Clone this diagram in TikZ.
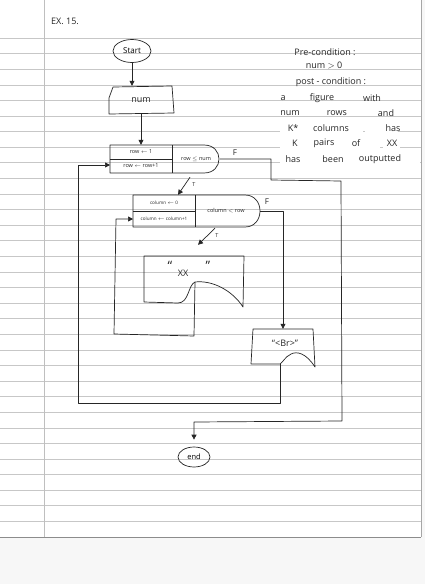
\documentclass[tikz,border=0pt]{standalone}
\usepackage{fontspec}
\setmainfont{Open Sans}
\usetikzlibrary{arrows.meta,shapes.geometric}

\begin{document}
\begin{tikzpicture}[x=1pt,y=-1pt,
  ink/.style={line width=0.7pt, draw=black!85, line join=round},
  tip/.style={-{Triangle[length=5pt,width=5pt]}},
  rule/.style={draw=black!22, line width=0.5pt},
  hand/.style={inner sep=0pt, text=black!85, font=\fontsize{9}{10}\selectfont},
  quote/.style={inner sep=0pt, text=black!85, font=\fontsize{13}{14}\selectfont},
  small/.style={inner sep=0pt, text=black!85, font=\fontsize{5.5}{6}\selectfont},
  tiny/.style={inner sep=0pt, text=black!85, font=\fontsize{4.6}{5}\selectfont},
  flag/.style={inner sep=0pt, text=black!85, font=\fontsize{8}{9}\selectfont},
]
\useasboundingbox (0,0) rectangle (425,584);

% ---- ruled notebook paper ----
\fill[white] (0,0) rectangle (425,584);
\fill[black!3] (0,537) rectangle (425,584);
\fill[black!3] (421,0) rectangle (425,537);
\foreach \k in {0,...,31}
  \draw[rule] (0,{38+15.59*\k}) -- (421,{38+15.59*\k});
\draw[draw=black!45, line width=0.7pt] (0,537) -- (421,537);
\draw[draw=black!25, line width=0.5pt] (44,0) -- (44,537);
\draw[draw=black!35, line width=0.5pt] (421,0) -- (421,537);

% ---- whited-out strips behind the last lines of the notes ----
\fill[white] (280,123) rectangle (363,134);
\fill[white] (365,123) rectangle (398,134);
\fill[white] (280,138) rectangle (380,149);
\fill[white] (383,138) rectangle (400,149);
\fill[white] (280,154) rectangle (420,165);

% ---- heading ----
\node[hand] (title) at (65,21) {EX. 15.};

% ---- start ----
\node[ellipse, ink, minimum width=38pt, minimum height=23pt, inner sep=0pt,
      font=\fontsize{8}{9}\selectfont] (start) at (132,51) {Start};

% ---- input num (manual input shape) ----
\node[hand, minimum width=65pt, minimum height=28pt] (num) at (141,100) {num};
\draw[ink] (109,98) -- (113,87) -- (172,86) -- (174,113) -- (109,114) -- cycle;

% ---- outer loop box: row ----
\node[inner sep=0pt, minimum width=110pt, minimum height=28pt] (rowbox) at (165,159) {};
\draw[ink] (110,145) -- (204,145) .. controls (224,145) and (224,173) .. (204,173)
  -- (110,173) -- cycle;
\draw[ink] (172,145) -- (172,173) (110,159) -- (172,159);
\node[small] (rowinit) at (141,152) {row $\leftarrow$ 1};
\node[small] (rowstep) at (141,166) {row $\leftarrow$ row+1};
\node[small] (rowtest) at (196,159) {row $\leq$ num};
\coordinate (rowin) at (110,165);

% ---- inner loop box: column ----
\node[inner sep=0pt, minimum width=127pt, minimum height=32pt] (colbox) at (196.5,211) {};
\draw[ink] (133,195) -- (245,195) .. controls (265,195) and (265,227) .. (245,227)
  -- (133,227) -- cycle;
\draw[ink] (195,195) -- (195,227) (133,211) -- (195,211);
\node[tiny] (colinit) at (164,203) {column $\leftarrow$ 0};
\node[tiny] (colstep) at (164,219) {column $\leftarrow$ column+1};
\node[small] (coltest) at (226,211) {column $<$ row};
\coordinate (colin) at (133,219);

% ---- output "XX" (document shape) ----
\node[inner sep=0pt, minimum width=100pt, minimum height=51pt] (xxbox) at (194,281.5) {};
\draw[ink] (144,256) -- (244,256) -- (243,307)
  .. controls (232,290) and (212,280) .. (195,282)
  .. controls (188,285) and (189,303) .. (178,303) -- (144,302) -- cycle;
\node[quote] (xxq1) at (170,266) {``};
\node[quote] (xxq2) at (208,266) {''};
\node[hand] (xxtext) at (183,273) {XX};
\coordinate (xxout) at (195,282);

% ---- output "<Br>" (document shape) ----
\node[inner sep=0pt, minimum width=62pt, minimum height=38pt] (brbox) at (283,348) {};
\draw[ink] (253,329) -- (313,329) -- (315,367)
  .. controls (306,353) and (297,351) .. (291,354)
  .. controls (285,357) and (283,362) .. (280,364) -- (251,364) -- cycle;
\node[hand, font=\fontsize{9}{10}\selectfont] (brtext) at (285,343) {``<Br>''};
\coordinate (brout) at (280,364);

% ---- end ----
\node[ellipse, ink, minimum width=32pt, minimum height=20pt, inner sep=0pt,
      font=\fontsize{7.5}{8}\selectfont] (stop) at (194,457) {end};

% ---- connectors ----
\draw[ink,tip] (start.south) -- (start.south |- num.north);
\draw[ink,tip] (num.south) -- (num.south |- rowbox.north);

% row test true -> column loop
\draw[ink,tip] ([xshift=25pt,yshift=-4pt]rowbox.south) -- ([xshift=-18.5pt]colbox.north);
\node[small] (rowT) at (194,185) {T};

% column test true -> print XX
\draw[ink,tip] ([xshift=18.5pt,yshift=-1pt]colbox.south) -- ([xshift=4pt,yshift=11pt]xxbox.north);
\node[small] (colT) at (217,236) {T};

% XX -> column increment
\draw[ink,tip] (xxout) -- (194,336) -- (114,334) -- (116,219) -- (colin);

% column test false -> print <Br>
\draw[ink,tip] (colbox.east) -- (283,211) -- (brbox.north);
\node[flag] (colF) at (267,202) {F};

% <Br> -> row increment
\draw[ink,tip] (brout) -- (280,403) -- (78,403) -- (78,165) -- (rowin);

% row test false -> end
\coordinate (exitturn) at (194,422);
\draw[ink,tip,shorten >=7pt] (rowbox.east) -- (271,159) -- (271,180) -- (341,181) -- (342,421)
  -- (exitturn) -- (stop.north);
\node[flag] (rowF) at (235,153) {F};

% ---- pre / post conditions ----
\node[hand] (pre) at (325,52) {Pre-condition :};
\node[hand] (preval) at (324,65) {num $>$ 0};
\node[hand] (post) at (331,82) {post - condition :};
\node[hand] (w1) at (283,98) {a};
\node[hand] (w2) at (322,98) {figure};
\node[hand] (w3) at (372,98) {with};
\node[hand] (w4) at (290,113) {num};
\node[hand] (w5) at (337,113) {rows};
\node[hand] (w6) at (386,113) {and};
\node[hand] (w7) at (293,128) {K*};
\node[hand] (w8) at (331,128) {columns};
\node[hand] (w9) at (393,128) {has};
\node[hand] (w10) at (295,143) {K};
\node[hand] (w11) at (324,143) {pairs};
\node[hand] (w12) at (356,143) {of};
\node[hand] (w13) at (392,143) {XX};
\node[hand] (w14) at (293,159) {has};
\node[hand] (w15) at (333,159) {been};
\node[hand] (w16) at (380,159) {outputted};
\end{tikzpicture}
\end{document}
